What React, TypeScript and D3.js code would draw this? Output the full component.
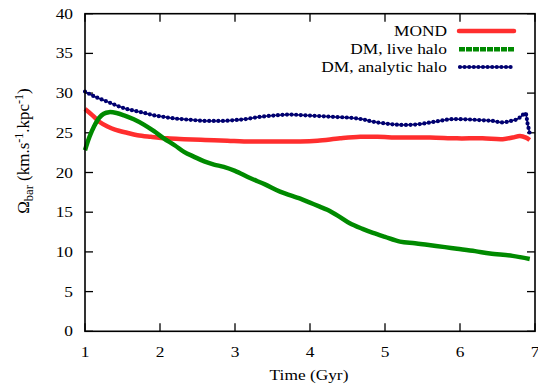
import React from "react";
import * as d3 from "d3";

const mondT = [1, 1.1, 1.19, 1.3, 1.4, 1.56, 1.7, 1.88, 2.1, 2.32, 2.6, 2.9, 3.12, 3.5, 3.87, 4.1, 4.4, 4.67, 4.9, 5.2, 5.6, 5.96, 6.3, 6.57, 6.7, 6.8, 6.88, 6.93];
const mondV = [28.0, 27.2, 26.4, 25.8, 25.4, 25.0, 24.7, 24.5, 24.3, 24.2, 24.1, 24.0, 23.9, 23.9, 23.9, 24.0, 24.3, 24.5, 24.5, 24.4, 24.4, 24.3, 24.3, 24.2, 24.4, 24.6, 24.4, 24.1];

const liveT = [1, 1.06, 1.12, 1.19, 1.25, 1.32, 1.42, 1.52, 1.65, 1.79, 1.92, 2.05, 2.2, 2.32, 2.45, 2.59, 2.72, 2.85, 3.0, 3.2, 3.4, 3.6, 3.87, 4.0, 4.13, 4.23, 4.38, 4.53, 4.7, 4.84, 5.0, 5.2, 5.4, 5.56, 5.8, 5.96, 6.2, 6.4, 6.7, 6.93];
const liveV = [22.8, 24.5, 25.8, 26.9, 27.4, 27.6, 27.5, 27.2, 26.7, 26.0, 25.2, 24.3, 23.4, 22.6, 22.0, 21.4, 21.0, 20.7, 20.2, 19.3, 18.5, 17.6, 16.7, 16.2, 15.7, 15.3, 14.5, 13.6, 12.9, 12.4, 11.9, 11.3, 11.1, 10.9, 10.6, 10.4, 10.1, 9.8, 9.5, 9.1];

const anaT = [1, 1.12, 1.25, 1.38, 1.52, 1.65, 1.79, 1.92, 2.05, 2.2, 2.32, 2.45, 2.59, 2.72, 2.85, 3.0, 3.12, 3.33, 3.55, 3.73, 3.93, 4.13, 4.33, 4.53, 4.7, 4.84, 5.07, 5.2, 5.33, 5.47, 5.6, 5.73, 5.87, 6.07, 6.27, 6.43, 6.57, 6.68, 6.76, 6.82, 6.87, 6.9, 6.93];
const anaV = [30.2, 29.6, 29.1, 28.6, 28.1, 27.8, 27.5, 27.2, 27.0, 26.8, 26.7, 26.6, 26.5, 26.5, 26.5, 26.6, 26.7, 27.0, 27.2, 27.3, 27.2, 27.1, 27.0, 26.9, 26.7, 26.4, 26.1, 26.0, 26.0, 26.1, 26.3, 26.5, 26.7, 26.7, 26.6, 26.5, 26.3, 26.5, 26.7, 27.1, 27.5, 26.2, 24.9];

const xTicks = [1, 2, 3, 4, 5, 6, 7];
const yTicks = [0, 5, 10, 15, 20, 25, 30, 35, 40];
const legendLabels = ["MOND", "DM, live halo", "DM, analytic halo"];

const W = 538, H = 387;
const L = 85, R = 535, T = 13.7, B = 331.3;
const RED = "#ff2e2e", GREEN = "#008a00", BLUE = "#000070";
const FONT = "Liberation Serif";

function ST({ x, y, anchor = "middle", size = 15.5, sx = 1.12, children }: any) {
  return (
    <text transform={`translate(${x},${y}) scale(${sx},1)`} textAnchor={anchor} fontSize={size} fontFamily={FONT} fill="#000">
      {children}
    </text>
  );
}

export default function App() {
  const x = d3.scaleLinear().domain([1, 7]).range([L, R]);
  const y = d3.scaleLinear().domain([0, 40]).range([B, T]);
  const line = d3.line<[number, number]>().x(d => x(d[0])).y(d => y(d[1])).curve(d3.curveCatmullRom);
  const mond = line(mondT.map((t, i) => [t, mondV[i]]))!;
  const live = line(liveT.map((t, i) => [t, liveV[i]]))!;
  const ana = line(anaT.map((t, i) => [t, anaV[i]]))!;
  const tl = 8;
  const legY = [31, 49.3, 67];
  return (
    <svg width={W} height={H} style={{ position: "absolute", left: 0, top: 0, background: "#fff" }}>
      <rect width={W} height={H} fill="#fff" />
      {xTicks.map(t => (
        <g key={"x" + t}>
          <line x1={x(t)} x2={x(t)} y1={B} y2={B - tl} stroke="#000" strokeWidth={1.3} />
          <line x1={x(t)} x2={x(t)} y1={T} y2={T + tl} stroke="#000" strokeWidth={1.3} />
          <ST x={x(t)} y={357}>{t}</ST>
        </g>
      ))}
      {yTicks.map(v => (
        <g key={"y" + v}>
          <line x1={L} x2={L + tl} y1={y(v)} y2={y(v)} stroke="#000" strokeWidth={1.3} />
          <line x1={R} x2={R - tl} y1={y(v)} y2={y(v)} stroke="#000" strokeWidth={1.3} />
          <ST x={73} y={y(v) + 5} anchor="end">{v}</ST>
        </g>
      ))}
      <path d={mond} fill="none" stroke={RED} strokeWidth={4.5} strokeLinejoin="round" />
      <path d={live} fill="none" stroke={GREEN} strokeWidth={4.5} strokeLinejoin="round" />
      <path d={ana} fill="none" stroke={BLUE} strokeWidth={1.5} />
      <path d={ana} fill="none" stroke={BLUE} strokeWidth={4.2} strokeLinecap="round" strokeDasharray="0 4.6" />
      <rect x={L} y={T} width={R - L} height={B - T} fill="none" stroke="#000" strokeWidth={1.6} />
      {legendLabels.map((lab, i) => (
        <ST key={lab} x={447} y={legY[i] + 5} anchor="end">{lab}</ST>
      ))}
      <line x1={459} x2={514} y1={legY[0]} y2={legY[0]} stroke={RED} strokeWidth={4.5} strokeLinecap="round" />
      <line x1={459} x2={514} y1={legY[1]} y2={legY[1]} stroke={GREEN} strokeWidth={4.5} strokeDasharray="6 1" />
      <line x1={460} x2={512} y1={legY[2]} y2={legY[2]} stroke={BLUE} strokeWidth={1.5} />
      <line x1={460} x2={512} y1={legY[2]} y2={legY[2]} stroke={BLUE} strokeWidth={4.2} strokeLinecap="round" strokeDasharray="0 4.6" />
      <ST x={309} y={380}>Time (Gyr)</ST>
      <text transform="translate(29,151) rotate(-90)" textAnchor="middle" fontSize={17} fontFamily={FONT} fill="#000">
        Ω<tspan fontSize={12.5} dy={4}>bar</tspan>
        <tspan dy={-4}> (km.s</tspan>
        <tspan fontSize={12} dy={-6}>-1</tspan>
        <tspan dy={6}>.kpc</tspan>
        <tspan fontSize={12} dy={-6}>-1</tspan>
        <tspan dy={6}>)</tspan>
      </text>
    </svg>
  );
}
